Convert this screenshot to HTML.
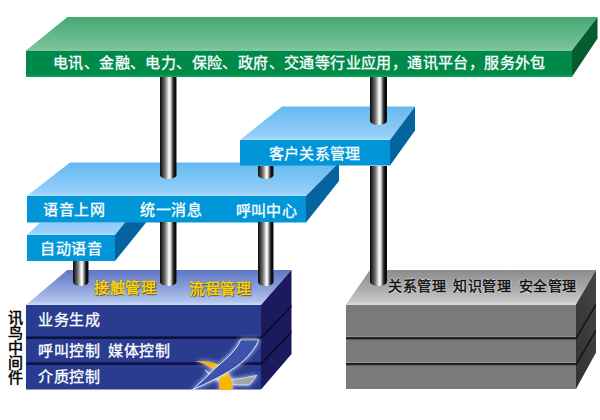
<!DOCTYPE html>
<html lang="zh-CN"><head><meta charset="utf-8">
<style>
html,body{margin:0;padding:0;background:#fff;}
body{width:600px;height:420px;position:relative;overflow:hidden;font-family:"Liberation Sans",sans-serif;}
svg{position:absolute;left:0;top:0;}
.t{position:absolute;white-space:nowrap;font-size:15px;line-height:15px;color:#fff;-webkit-text-stroke:0.3px currentColor;}
.y{color:#f6d418;-webkit-text-stroke:0.55px #f6d418;text-shadow:0.5px 0.5px 1px #403000,0 0 1.5px #5a4800;}
.g{font-size:14px !important;color:#111;-webkit-text-stroke:0.55px #111;text-shadow:0 0 2px #fff,0 0 2px #fff,0 0 1px #fff;}
.k{color:#000;-webkit-text-stroke:0.5px #000;}
</style></head><body>
<svg width="600" height="420" viewBox="0 0 600 420">
<defs>
<linearGradient id="pil" x1="0" y1="0" x2="1" y2="0">
<stop offset="0" stop-color="#080808"/><stop offset="0.1" stop-color="#262626"/><stop offset="0.32" stop-color="#777"/><stop offset="0.55" stop-color="#fff"/><stop offset="0.64" stop-color="#d8d8d8"/><stop offset="0.8" stop-color="#333"/><stop offset="0.9" stop-color="#050505"/><stop offset="1" stop-color="#151515"/>
</linearGradient>
<linearGradient id="gtop" x1="0" y1="0" x2="0" y2="1">
<stop offset="0" stop-color="#45a972"/><stop offset="1" stop-color="#7cc49c"/>
</linearGradient>
<linearGradient id="btop" x1="0" y1="0" x2="0" y2="1">
<stop offset="0" stop-color="#62b9f0"/><stop offset="0.92" stop-color="#98cffa"/><stop offset="1" stop-color="#b4e0ff"/>
</linearGradient>
<linearGradient id="ntop" x1="0" y1="0" x2="0" y2="1">
<stop offset="0" stop-color="#5f76c4"/><stop offset="0.5" stop-color="#8aa0da"/><stop offset="0.9" stop-color="#b2c4ee"/><stop offset="1" stop-color="#d0def8"/>
</linearGradient>
<linearGradient id="gytop" x1="0" y1="0" x2="0" y2="1">
<stop offset="0" stop-color="#8c8c8c"/><stop offset="0.5" stop-color="#a8a8a8"/><stop offset="1" stop-color="#cfcfcf"/>
</linearGradient>
<filter id="glow" x="-30%" y="-30%" width="160%" height="160%">
<feGaussianBlur in="SourceAlpha" stdDeviation="2.8" result="b"/>
<feFlood flood-color="#d8e4ff" flood-opacity="0.95"/>
<feComposite in2="b" operator="in" result="g"/>
<feMerge><feMergeNode in="g"/><feMergeNode in="SourceGraphic"/></feMerge>
</filter>
<linearGradient id="gyside" x1="1" y1="0" x2="0" y2="1">
<stop offset="0" stop-color="#444"/><stop offset="1" stop-color="#323232"/>
</linearGradient>
<linearGradient id="gydiv" x1="0" y1="0" x2="0" y2="1">
<stop offset="0" stop-color="#0c0c0c"/><stop offset="0.4" stop-color="#1c1c1c"/><stop offset="1" stop-color="#7a7a7a"/>
</linearGradient>
<linearGradient id="btop2" x1="0" y1="0" x2="0" y2="1">
<stop offset="0" stop-color="#8ccaf6"/><stop offset="0.85" stop-color="#9ed2fa"/><stop offset="1" stop-color="#bce2ff"/>
</linearGradient>
</defs>

<!-- green slab -->
<polygon points="26,50.5 67.5,17 597.5,17 572,50.5" fill="url(#gtop)"/>
<rect x="26" y="49.8" width="546" height="1.2" fill="#9ad6b0"/>
<rect x="26" y="50.8" width="546" height="26" fill="#008a4a"/>
<rect x="26" y="74.8" width="546" height="2" fill="#009f52"/>
<polygon points="572,50.5 597.5,17 597.5,38.5 572,76.8" fill="#055c31"/>

<!-- small slab zidong -->
<polygon points="27,235 40,222.5 125.5,222.5 115,235" fill="url(#btop2)"/>
<rect x="27" y="235" width="88" height="26" fill="#0096d8"/>
<polygon points="115,235 125.5,222 146.5,222 115,261" fill="#05639f"/>

<!-- big blue slab -->
<polygon points="27,196 70,162.5 339,162.5 306,196" fill="url(#btop)"/>
<rect x="27" y="196" width="279" height="26.5" fill="#0096d8"/>
<polygon points="306,196 339,162.5 339,181 306,222.5" fill="#05639f"/>

<!-- pillar A upper (160-176) -->
<rect x="160" y="77" width="16.5" height="98" fill="url(#pil)"/>
<ellipse cx="168.25" cy="175" rx="8.25" ry="4" fill="url(#pil)"/>

<!-- kehu slab -->
<polygon points="240,140 282,106.5 415,106.5 390,140" fill="url(#btop)"/>
<rect x="240" y="140" width="150" height="25.5" fill="#0096d8"/>
<polygon points="390,140 415,106.5 415,130.5 390,165.5" fill="#05639f"/>

<!-- pillar B upper (370-386) -->
<rect x="370" y="77" width="17" height="44" fill="url(#pil)"/>
<ellipse cx="378.5" cy="121" rx="8.5" ry="4" fill="url(#pil)"/>
<!-- pillar C upper (258-273) -->
<rect x="258" y="166" width="15.5" height="9" fill="url(#pil)"/>
<ellipse cx="265.75" cy="175" rx="7.75" ry="4" fill="url(#pil)"/>

<!-- navy block -->
<polygon points="26,305 67.3,270 291.5,270 261,305" fill="url(#ntop)"/>
<rect x="26" y="305" width="235" height="84.5" fill="#2a3c90"/>
<rect x="26" y="336.4" width="235" height="2.6" fill="#0e1242"/>
<rect x="26" y="362.3" width="235" height="2.6" fill="#0e1242"/>
<polygon points="261,305 291.5,270 291.5,354 261,389.5" fill="#1b1a5c"/>
<polygon points="261,336.8 291.5,304.5 291.5,307 261,339.3" fill="#0a0a2e"/>
<polygon points="261,362.7 291.5,330.5 291.5,333 261,365.2" fill="#0a0a2e"/>

<!-- logo -->
<g>
<path d="M205,370 Q214,378 233,379.4 Q246,378.5 257,375.3 L249.5,384.8 Q238,385.5 230,384 Q214,381 205,370 Z" fill="#a4a4a4" stroke="#d8e4ff" stroke-width="0.8" filter="url(#glow)"/>
<path d="M195.5,361 Q222,360 230,376 Q233,384 232.5,390 L219,390 Q221,380 215,371 Q207,364 195.5,361 Z" fill="#f7b500" filter="url(#glow)"/>
<path d="M240.7,339.6 L258.5,339.6 C256.5,347 247,359 236.4,366.5 C226,374 208,383 192.7,389.6 C200,383 208,376 213.3,370 C223,361 236,352 240.7,339.6 Z" fill="#3c52aa" stroke="#e0eaff" stroke-width="1" filter="url(#glow)"/>
<path d="M240.7,339.6 L258.5,339.6" stroke="#9aa2b8" stroke-width="1.6"/>
</g>

<!-- gray block -->
<polygon points="346,304.5 370,270 596,270 576,304.5" fill="url(#gytop)"/>
<rect x="346" y="304.5" width="230" height="84.5" fill="#7a7a7a"/>
<rect x="346" y="303.6" width="230" height="1.2" fill="#e2e2e2"/>
<rect x="346" y="336.2" width="230" height="1" fill="#9a9a9a"/>
<rect x="346" y="337.2" width="230" height="3" fill="url(#gydiv)"/>
<rect x="346" y="362" width="230" height="1" fill="#9a9a9a"/>
<rect x="346" y="363" width="230" height="3" fill="url(#gydiv)"/>
<polygon points="576,304.5 596,270 596,352.5 576,389" fill="url(#gyside)"/>
<polygon points="576,337 596,303 596,306 576,340" fill="#141414"/>
<polygon points="576,363 596,329 596,332 576,366" fill="#141414"/>

<!-- lower pillars -->
<rect x="160" y="222" width="16.5" height="60" fill="url(#pil)"/>
<ellipse cx="168.25" cy="282" rx="8.25" ry="4" fill="url(#pil)"/>
<rect x="258" y="222" width="15.5" height="60" fill="url(#pil)"/>
<ellipse cx="265.75" cy="282" rx="7.75" ry="4" fill="url(#pil)"/>
<rect x="73" y="261" width="15.5" height="21" fill="url(#pil)"/>
<ellipse cx="80.75" cy="282" rx="7.75" ry="4" fill="url(#pil)"/>
<rect x="370" y="166" width="17" height="116" fill="url(#pil)"/>
<ellipse cx="378.5" cy="282" rx="8.5" ry="4" fill="url(#pil)"/>
</svg>

<div class="t" style="left:53px;top:55px;letter-spacing:0.4px">电讯、金融、电力、保险、政府、交通等行业应用，通讯平台，服务外包</div>
<div class="t" style="left:269px;top:146px;letter-spacing:0.2px">客户关系管理</div>
<div class="t" style="left:43px;top:202px;letter-spacing:0.7px">语音上网</div>
<div class="t" style="left:140px;top:202px;letter-spacing:0.7px">统一消息</div>
<div class="t" style="left:235.5px;top:203px;letter-spacing:0.4px">呼叫中心</div>
<div class="t" style="left:40px;top:241px;letter-spacing:0.6px">自动语音</div>
<div class="t y" style="left:94px;top:280px;letter-spacing:0.7px">接触管理</div>
<div class="t y" style="left:189px;top:281px;letter-spacing:0.7px">流程管理</div>
<div class="t" style="left:38px;top:312px;letter-spacing:0.5px">业务生成</div>
<div class="t" style="left:38px;top:343px;letter-spacing:0.5px">呼叫控制</div>
<div class="t" style="left:108px;top:343px;letter-spacing:0.5px">媒体控制</div>
<div class="t" style="left:38px;top:368.5px;letter-spacing:0.5px">介质控制</div>
<div class="t g" style="left:388px;top:279px;letter-spacing:0.6px">关系管理</div>
<div class="t g" style="left:453px;top:279px;letter-spacing:0.6px">知识管理</div>
<div class="t g" style="left:518.5px;top:279px;letter-spacing:0.6px">安全管理</div>
<div class="t k" style="left:7.5px;top:310px;width:16px;white-space:normal;font-size:15px;line-height:15px">讯鸟中间件</div>
</body></html>
